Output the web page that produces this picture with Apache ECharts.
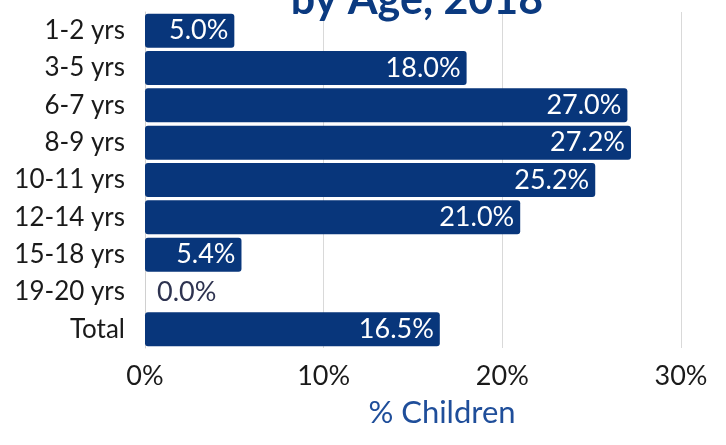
<!DOCTYPE html>
<html><head><meta charset="utf-8">
<script src="https://cdn.jsdelivr.net/npm/echarts@6/dist/echarts.min.js"></script>
<style>html,body{margin:0;padding:0;background:#fff}#c{width:726px;height:445px}</style>
</head><body><div id="c"></div>
<script>
const categories = ['1-2 yrs','3-5 yrs','6-7 yrs','8-9 yrs','10-11 yrs','12-14 yrs','15-18 yrs','19-20 yrs','Total'];
const values = [5.0, 18.0, 27.0, 27.2, 25.2, 21.0, 5.4, 0.0, 16.5];
const xTicks = [0, 10, 20, 30];
const titleText = 'by Age, 2018';
const axisTitle = '% Children';

const FONT = 'Lato';
const chart = echarts.init(document.getElementById('c'), null, {renderer:'canvas'});
chart.setOption({
  animation:false,
  title:{text:titleText, left:412, textAlign:'center', top:-26,
    textStyle:{fontFamily:FONT, fontSize:43, fontWeight:'bold', color:'#0b3a80'}},
  grid:{left:145, right:45, top:12, bottom:97, containLabel:false},
  xAxis:{type:'value', min:xTicks[0], max:xTicks[xTicks.length-1], interval:10,
    axisLabel:{formatter:'{value}%', fontFamily:FONT, fontSize:27, color:'#1a1a1a', margin:15},
    splitLine:{lineStyle:{color:'#d9d9d9', width:1}},
    axisLine:{show:false}, axisTick:{show:false},
    name:axisTitle, nameLocation:'middle', nameGap:49,
    nameTextStyle:{fontFamily:FONT, fontSize:31, color:'#1f4e9a', padding:[0,0,0,58]}},
  yAxis:{type:'category', data:categories, inverse:true,
    axisLabel:{fontFamily:FONT, fontSize:26, color:'#1a1a1a', margin:20},
    axisLine:{show:true, lineStyle:{color:'#d0d0d0'}}, axisTick:{show:false}},
  series:[{type:'bar', barCategoryGap:'9%',
    data: values.map(v => v === 0 ? {value:v, label:{position:'right', color:'#2e3350', distance:12}} : v),
    itemStyle:{color:'#08367b', borderRadius:3},
    label:{show:true, position:'insideRight', distance:6, color:'#ffffff',
      fontFamily:FONT, fontSize:27, formatter: p => p.value.toFixed(1) + '%'}
  }]
});
</script></body></html>
